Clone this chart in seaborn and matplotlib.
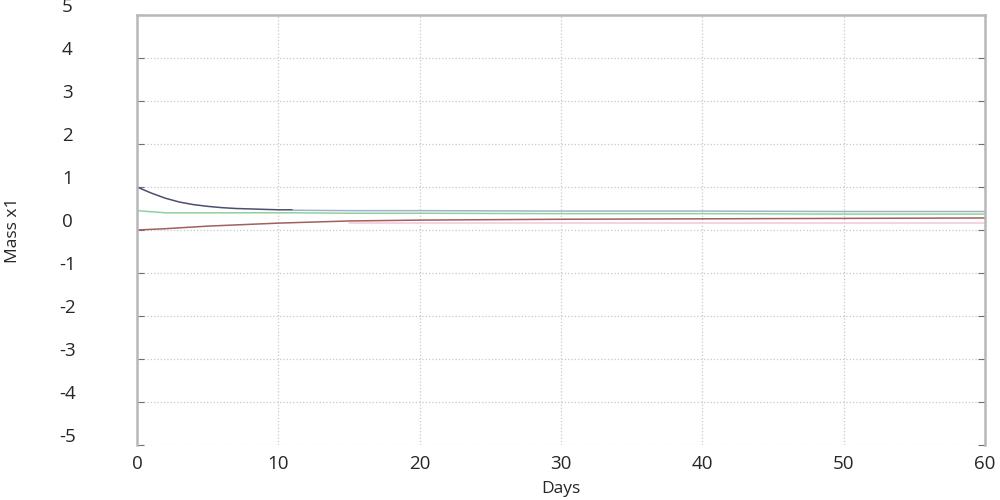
import pandas as pd
import seaborn as sns
import matplotlib.pyplot as plt
import matplotlib.transforms as mtransforms

# valores
dias_ini = [0, 1, 2, 3, 4, 5, 6, 7, 8, 9, 10, 11]
azul_escuro = [1.0, 0.86, 0.74, 0.65, 0.59, 0.55, 0.52, 0.50, 0.49, 0.48, 0.47, 0.47]

dias_long = [0, 2, 5, 10, 11, 15, 20, 30, 40, 50, 60]
azul_claro = [None, None, None, None, 0.46, 0.45, 0.45, 0.44, 0.44, 0.43, 0.43]
verde = [0.45, 0.40, 0.40, 0.40, 0.40, 0.39, 0.39, 0.38, 0.38, 0.37, 0.37]
vermelho = [0.0, 0.03, 0.09, 0.16, 0.17, 0.21, 0.23, 0.25, 0.26, 0.27, 0.28]
rosa = [None, None, None, None, None, 0.17, 0.17, 0.17, 0.17, 0.17, 0.17]

tab1 = pd.DataFrame({"Days": dias_ini, "valor": azul_escuro, "serie": "azul_escuro"})
tab2 = pd.DataFrame({"Days": dias_long, "azul_claro": azul_claro, "verde": verde,
                     "vermelho": vermelho, "rosa": rosa})
tab2 = tab2.melt(id_vars="Days", var_name="serie", value_name="valor").dropna()
tabela = pd.concat([tab1, tab2], ignore_index=True)

cores = {"azul_escuro": "#4a4f6e", "azul_claro": "#9fb3c8", "verde": "#8fd19e",
         "vermelho": "#a0605f", "rosa": "#f3c6d6"}

sns.set_style("white")
plt.rcParams["font.family"] = ["Open Sans", "DejaVu Sans"]
plt.rcParams["axes.unicode_minus"] = False

fig = plt.figure(figsize=(10, 5), dpi=100)
ax = fig.add_axes([0.137, 0.11, 0.848, 0.86])

sns.lineplot(data=tabela, x="Days", y="valor", hue="serie", palette=cores,
             linewidth=1.1, legend=False, ax=ax, estimator=None)

ax.set_xlim(0, 60)
ax.set_ylim(-5, 5)
ax.set_xticks(range(0, 61, 10))
ax.set_yticks(range(-5, 6))
ax.grid(True, color="#c8c8c8", linestyle=":", linewidth=0.9)

for lado in ["left", "top", "right"]:
    ax.spines[lado].set_color("#b8b8b8")
    ax.spines[lado].set_linewidth(1.8)
ax.spines["bottom"].set_visible(False)

ax.tick_params(axis="y", direction="in", length=5, color="#707070", labelsize=13.5,
               right=True, left=True, pad=40)
ax.tick_params(axis="x", direction="in", length=0, labelsize=13.5, pad=7)
for lab in ax.get_yticklabels():
    lab.set_horizontalalignment("center")
    lab.set_transform(lab.get_transform() + mtransforms.ScaledTranslation(-0.14, 0.10, fig.dpi_scale_trans))

ax.set_xlabel("Days", fontsize=12.5, labelpad=6)
ax.set_ylabel("Mass x1", fontsize=12.5)
ax.yaxis.set_label_coords(-0.137, 0.5)

fig.savefig("out.png", dpi=100)
